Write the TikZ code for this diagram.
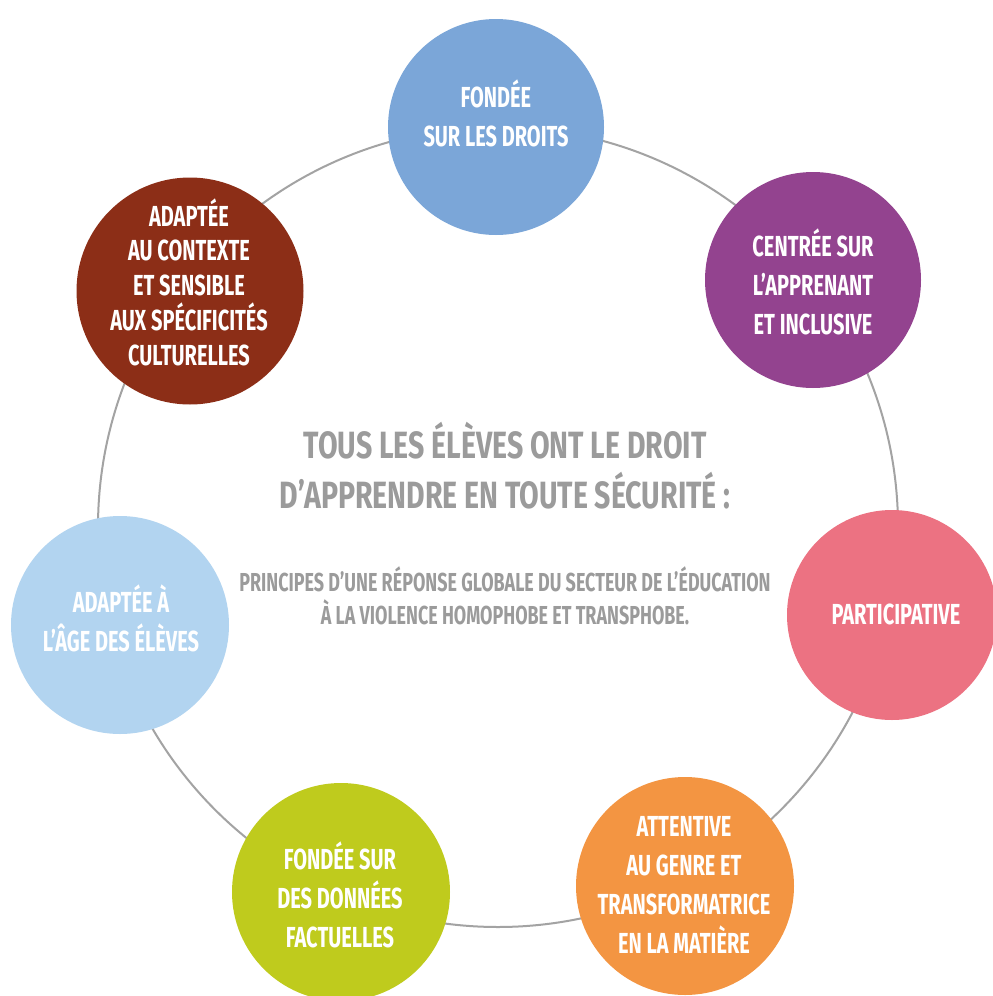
\documentclass[tikz,border=0pt]{standalone}
\usepackage{fontspec}
\newfontfamily\cf{Fira Sans}[FakeStretch=0.69]
\newfontfamily\cft{Fira Sans}[FakeStretch=0.75]
\definecolor{ringgrey}{HTML}{A3A3A3}
\definecolor{txtgrey}{HTML}{9B9B9B}
\definecolor{cblue}{HTML}{7BA6D8}
\definecolor{cpurple}{HTML}{93438F}
\definecolor{cpink}{HTML}{EC7282}
\definecolor{corange}{HTML}{F39542}
\definecolor{clime}{HTML}{BFCB1D}
\definecolor{clight}{HTML}{B2D4F0}
\definecolor{cbrown}{HTML}{8C2E17}
\begin{document}
\begin{tikzpicture}[x=1pt,y=-1pt,
  bubble/.style={circle,inner sep=0pt,outer sep=0pt,minimum size=#1},
  lbl/.style={text=white,align=center,inner sep=0pt,font=\cf\bfseries\fontsize{29}{39}\selectfont},
  lblb/.style={text=white,align=center,inner sep=0pt,font=\cf\bfseries\fontsize{29}{34.7}\selectfont},
  title/.style={text=txtgrey,align=center,inner sep=0pt,font=\cft\bfseries\fontsize{38}{50}\selectfont},
  subtitle/.style={text=txtgrey,align=center,inner sep=0pt,font=\cf\bfseries\fontsize{26}{33}\selectfont}]
\useasboundingbox (0,0) rectangle (993,996);
\fill[white] (0,0) rectangle (993,996);
\node[draw=ringgrey,line width=2pt,circle,inner sep=0pt,minimum size=800pt] (ring) at (498,527) {};
\node[bubble=216pt,fill=cblue] (c1) at (496,127) {};
\node[bubble=216pt,fill=cpurple] (c2) at (813,280) {};
\node[bubble=210pt,fill=cpink] (c3) at (892,615) {};
\node[bubble=218pt,fill=corange] (c4) at (685,886) {};
\node[bubble=218pt,fill=clime] (c5) at (341,892) {};
\node[bubble=218pt,fill=clight] (c6) at (120,625) {};
\node[bubble=227pt,fill=cbrown] (c7) at (190,291) {};
\node[lbl] (t1) at (496,113) {FONDÉE\\SUR LES DROITS};
\node[lbl] (t2) at (813,282) {CENTRÉE SUR\\L’APPRENANT\\ET INCLUSIVE};
\node[lbl] (t3) at (896,614) {PARTICIPATIVE};
\node[lbl] (t4) at (684,885) {ATTENTIVE\\AU GENRE ET\\TRANSFORMATRICE\\EN LA MATIÈRE};
\node[lbl] (t5) at (340,895) {FONDÉE SUR\\DES DONNÉES\\FACTUELLES};
\node[lbl] (t6) at (121,618) {ADAPTÉE À\\L’ÂGE DES ÉLÈVES};
\node[lblb] (t7) at (189,282) {ADAPTÉE\\AU CONTEXTE\\ET SENSIBLE\\AUX SPÉCIFICITÉS\\CULTURELLES};
\node[title] (head) at (505,466) {TOUS LES ÉLÈVES ONT LE DROIT\\D’APPRENDRE EN TOUTE SÉCURITÉ :};
\node[subtitle] (sub) at (505,596) {PRINCIPES D’UNE RÉPONSE GLOBALE DU SECTEUR DE L’ÉDUCATION\\À LA VIOLENCE HOMOPHOBE ET TRANSPHOBE.};
\end{tikzpicture}
\end{document}
